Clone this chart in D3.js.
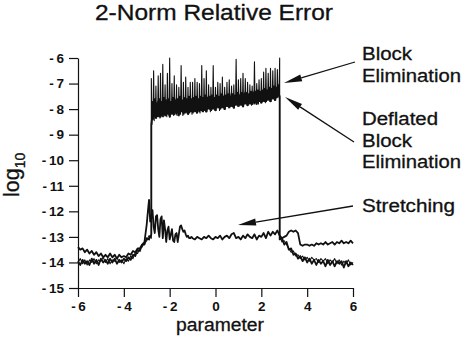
<!DOCTYPE html>
<html>
<head>
<meta charset="utf-8">
<script src="https://cdn.jsdelivr.net/npm/d3@7"></script>
<style>
body { margin: 0; background: #fff; }
svg { display: block; }
.axis text { font-family: "Liberation Sans", Arial, sans-serif; font-weight: bold; font-size: 13.5px; fill: #111; }
.axis path, .axis line { stroke: #111; stroke-width: 1.2; }
.label { font-family: "Liberation Sans", Arial, sans-serif; fill: #111; }
.series { fill: none; stroke: #111; stroke-linejoin: round; }
</style>
</head>
<body>
<div id="chart"></div>
<script>
var WIDTH = 463,
    HEIGHT = 342;

/* Data: log10 of the relative error.
   Each run is sampled on its own parameter grid (start, step). */
var xTicks = [-6, -4, -2, 0, 2, 4, 6];
var yTicks = [-15, -14, -13, -12, -11, -10, -9, -8, -7, -6];

// Block Elimination
var blockLeft = [ // -6 .. -2.8, step 0.1
    -14.0, -13.85, -14.05, -13.9, -14.1, -13.9, -14.0, -13.85, -14.05, -13.9,
    -13.95, -13.8, -14.0, -13.85, -14.05, -13.9, -13.95, -13.8, -14.0, -13.9,
    -14.05, -13.85, -13.95, -13.75, -13.85, -13.6, -13.65, -13.45, -13.4, -13.2,
    -13.15, -12.95, -13.05
];
var blockMid = [ // -2.8 .. 2.8, step 0.025
    -6.8, -8.6, -7.7, -8.4,     -6.5, -8.45, -7.6, -8.3,    -7.1, -8.35, -7.75, -8.3,   -6.7, -8.3, -7.6, -8.35,
    -6.6, -8.25, -7.7, -8.3,    -6.25, -8.3, -7.55, -8.2,   -7.05, -8.25, -7.65, -8.3,  -6.6, -8.2, -7.6, -8.25,
    -6.0, -8.3, -7.7, -8.2,     -7.0, -8.2, -7.55, -8.25,   -6.7, -8.15, -7.65, -8.2,   -7.05, -8.25, -7.6, -8.15,
    -7.15, -8.2, -7.5, -8.2,    -6.3, -8.1, -7.65, -8.25,   -6.95, -8.2, -7.55, -8.15,  -6.75, -8.15, -7.6, -8.1,
    -7.15, -8.2, -7.5, -8.15,   -6.95, -8.1, -7.6, -8.2,    -6.95, -8.15, -7.55, -8.1,  -6.8, -8.1, -7.5, -8.15,
    -6.95, -8.05, -7.6, -8.1,   -7.0, -8.15, -7.5, -8.05,   -6.3, -8.1, -7.55, -8.1,    -6.8, -8.05, -7.45, -8.1,
    -6.5, -8.1, -7.55, -8.0,    -7.05, -8.0, -7.5, -8.1,    -7.15, -8.05, -7.45, -8.0,  -6.3, -8.0, -7.55, -8.05,
    -7.15, -8.05, -7.45, -7.95, -6.95, -7.95, -7.5, -8.05,  -7.0, -8.0, -7.4, -7.95,    -6.75, -7.95, -7.5, -8.0,
    -7.15, -8.0, -7.45, -7.9,   -6.95, -7.9, -7.4, -7.95,   -6.85, -7.95, -7.5, -7.9,   -7.1, -7.9, -7.4, -7.95,
    -7.05, -7.95, -7.45, -7.85, -6.05, -7.85, -7.35, -7.9,  -6.85, -7.9, -7.45, -7.85,  -6.8, -7.85, -7.35, -7.9,
    -6.6, -7.9, -7.4, -7.8,     -6.8, -7.8, -7.35, -7.85,   -6.95, -7.85, -7.4, -7.8,   -7.05, -7.8, -7.3, -7.85,
    -7.1, -7.75, -7.35, -7.8,   -6.15, -7.8, -7.3, -7.75,   -7.0, -7.75, -7.25, -7.8,   -6.85, -7.7, -7.3, -7.75,
    -6.8, -7.75, -7.25, -7.7,   -6.55, -7.7, -7.2, -7.75,   -6.4, -7.7, -7.25, -7.65,   -6.6, -7.65, -7.15, -7.7,
    -6.4, -7.7, -7.2, -7.6,     -6.5, -7.6, -7.1, -7.65,    -6.4, -7.65, -7.15, -7.55,  -6.45, -7.55, -7.05, -7.5,
    -6.0
];
var blockRight = [ // 2.8 .. 6, step 0.1
    -12.95, -13.2,
    -13.15, -13.3, -13.45, -13.6, -13.55, -13.75, -13.7, -13.85, -13.75, -13.9,
    -13.8, -13.95, -13.8, -13.9, -13.85, -14.0, -13.85, -13.95, -13.85, -14.05,
    -13.9, -14.0, -13.85, -14.05, -13.9, -14.1, -13.95, -14.05, -13.9, -14.1,
    -14.0
];

// Deflated Block Elimination
var deflatedLeft = [ // -6 .. -2.8, step 0.1
    -13.95, -14.1, -13.9, -14.05, -13.95, -14.1, -13.85, -14.05, -13.9, -14.1,
    -13.85, -14.0, -13.9, -14.05, -13.85, -14.0, -13.85, -14.05, -13.9, -14.0,
    -13.85, -13.95, -13.8, -13.9, -13.7, -13.75, -13.5, -13.55, -13.3, -13.3,
    -13.05, -13.1, -12.9
];
var deflatedMid = [ // -2.8 .. 2.8, step 0.1
    -8.6, -7.8, -8.35, -7.7, -8.3, -7.8, -8.25, -7.65, -8.3, -7.75,
    -8.2, -7.6, -8.25, -7.7, -8.15, -7.6, -8.2, -7.65, -8.1, -7.55,
    -8.15, -7.6, -8.05, -7.55, -8.1, -7.5, -8.0, -7.6, -8.05, -7.5,
    -7.95, -7.45, -8.0, -7.5, -7.9, -7.4, -7.95, -7.45, -7.85, -7.4,
    -7.9, -7.35, -7.85, -7.4, -7.8, -7.3, -7.8, -7.35, -7.75, -7.3,
    -7.7, -7.25, -7.7, -7.2, -7.65, -7.25, -7.5
];
var deflatedRight = [ // 2.8 .. 6, step 0.1
    -13.1, -13.05,
    -13.3, -13.2, -13.5, -13.45, -13.7, -13.65, -13.85, -13.75, -13.95, -13.8,
    -14.0, -13.85, -14.05, -13.9, -14.1, -13.9, -14.05, -13.95, -14.15, -13.9,
    -14.1, -13.95, -14.15, -13.95, -14.05, -13.95, -14.2, -13.95, -14.15, -14.0,
    -14.1
];

// Stretching
var stretchLeft = [ // -6 .. -3.1, step 0.1
    -13.4, -13.5, -13.45, -13.6, -13.5, -13.65, -13.55, -13.7, -13.6, -13.75,
    -13.65, -13.8, -13.7, -13.8, -13.65, -13.8, -13.7, -13.85, -13.7, -13.8,
    -13.75, -13.8, -13.65, -13.7, -13.55, -13.6, -13.45, -13.45, -13.3, -13.2
];
var stretchPeak = [ // -3.0 .. -1.05, step 0.05
    -12.5, -12.0, -11.55, -12.4, -12.25, -11.95, -12.6, -12.85, -12.2, -12.15,
    -12.7, -13.0, -12.3, -12.2, -13.05, -12.35, -12.7, -13.2, -12.75, -12.6,
    -13.1, -12.9, -12.7, -13.15, -13.2, -12.9, -12.85, -13.2, -12.9, -12.6,
    -12.55, -12.7, -12.8, -12.75, -12.9, -13.0, -12.95, -13.05, -13.05, -13.0
];
var stretchRest = [ // -1.0 .. 6, step 0.1
    -13.05, -13.1, -13.0, -13.05, -13.1, -13.0, -13.05, -12.95, -13.05, -13.1,
    -13.0, -13.05, -12.95, -13.1, -13.0, -12.95, -13.05, -12.9, -12.85, -13.05,
    -13.0, -13.1, -12.95, -13.05, -12.9, -13.0, -13.05, -12.9, -13.1, -12.95,
    -13.0, -12.85, -13.05, -12.8, -12.95, -12.8, -12.9, -12.75, -12.95, -13.05,
    -13.0, -12.95, -12.8, -12.75, -12.8, -12.75, -12.85, -13.3, -13.35, -13.3,
    -13.3, -13.35, -13.3, -13.35, -13.25, -13.3, -13.25, -13.3, -13.2, -13.3,
    -13.25, -13.2, -13.3, -13.2, -13.25, -13.15, -13.25, -13.2, -13.25, -13.15,
    -13.25
];

/**
 * Turns a run of values on a regular parameter grid into points
 */
function segment(from, step, values){
    return values.map(function(v, i){
        return {x: +(from + i * step).toFixed(3), y: v};
    });
}

var series = [
    {width: 1.8, points: segment(-6, 0.1, stretchLeft).concat(segment(-3.0, 0.05, stretchPeak), segment(-1.0, 0.1, stretchRest))},
    {width: 1.8, points: segment(-6, 0.1, deflatedLeft).concat(segment(-2.8, 0.1, deflatedMid), segment(2.8, 0.1, deflatedRight))},
    {width: 1.1, points: segment(-6, 0.1, blockLeft).concat(segment(-2.8, 0.025, blockMid), segment(2.8, 0.1, blockRight))}
];

var margins = {top: 58, right: 110, bottom: 54, left: 78};

/* SVG */
var svg = d3.select("#chart")
    .append("svg")
        .attr("width", WIDTH)
        .attr("height", HEIGHT);

/* Scales */
var x = d3.scaleLinear()
    .domain([-6, 6])
    .range([margins.left, WIDTH - margins.right]);
var y = d3.scaleLinear()
    .domain([-15, -6])
    .range([HEIGHT - margins.bottom, margins.top]);

function minusFormat(d){
    return d < 0 ? "-\u2009" + (-d) : "" + d;
}

/* Axes */
svg.append("g")
    .attr("class", "axis")
    .attr("transform", "translate(" + margins.left + ",0)")
    .call(d3.axisLeft(y).tickValues(yTicks).tickFormat(minusFormat).tickSize(9).tickSizeOuter(0).tickPadding(5));

var xAxis = svg.append("g")
    .attr("class", "axis")
    .attr("transform", "translate(0," + y(-15) + ")")
    .call(d3.axisBottom(x).tickValues(xTicks).tickFormat(minusFormat).tickSize(9).tickSizeOuter(0).tickPadding(4));
xAxis.select(".domain").attr("stroke", "#8a6a4a");

/* Lines */
var line = d3.line()
    .x(function(d) { return x(d.x); })
    .y(function(d) { return y(d.y); });

svg.selectAll(".series")
    .data(series)
    .enter()
    .append("path")
        .attr("class", "series")
        .attr("stroke-width", function(d) { return d.width; })
        .attr("d", function(d) { return line(d.points); });

/* Title and axis labels */
svg.append("text")
    .attr("class", "label")
    .attr("x", 95).attr("y", 20)
    .attr("font-size", 21.5)
    .attr("stroke", "#111").attr("stroke-width", 0.3)
    .attr("textLength", 238).attr("lengthAdjust", "spacingAndGlyphs")
    .text("2-Norm Relative Error");

svg.append("text")
    .attr("class", "label")
    .attr("x", 176).attr("y", 331)
    .attr("font-size", 18)
    .attr("stroke", "#111").attr("stroke-width", 0.3)
    .attr("textLength", 88).attr("lengthAdjust", "spacingAndGlyphs")
    .text("parameter");

var yLabel = svg.append("text")
    .attr("class", "label")
    .attr("transform", "translate(19,197) rotate(-90)")
    .attr("font-size", 21.5)
    .attr("stroke", "#111").attr("stroke-width", 0.3);
yLabel.append("tspan").text("log");
yLabel.append("tspan").attr("font-size", 14).attr("dy", 6).text("10");

/* Annotations */
var notes = [
    {text: "Block", y: 60, w: 50},
    {text: "Elimination", y: 82, w: 99},
    {text: "Deflated", y: 125, w: 76},
    {text: "Block", y: 147, w: 50},
    {text: "Elimination", y: 168, w: 99},
    {text: "Stretching", y: 212, w: 93}
];
svg.selectAll(".note")
    .data(notes)
    .enter()
    .append("text")
        .attr("class", "label note")
        .attr("x", 362)
        .attr("y", function(d) { return d.y; })
        .attr("font-size", 18)
        .attr("stroke", "#111").attr("stroke-width", 0.3)
        .attr("textLength", function(d) { return d.w; })
        .attr("lengthAdjust", "spacingAndGlyphs")
        .text(function(d) { return d.text; });

// arrows: from label side to the tip on the curve
var arrows = [
    {x1: 355, y1: 62, x2: 284, y2: 83},
    {x1: 354, y1: 142, x2: 285, y2: 97},
    {x1: 353, y1: 206, x2: 238, y2: 225}
];
arrows.forEach(function(a){
    var dx = a.x2 - a.x1, dy = a.y2 - a.y1,
        len = Math.sqrt(dx * dx + dy * dy),
        ux = dx / len, uy = dy / len,
        headLen = 18, headW = 3.5,
        bx = a.x2 - ux * headLen, by = a.y2 - uy * headLen;
    svg.append("line")
        .attr("x1", a.x1).attr("y1", a.y1)
        .attr("x2", bx).attr("y2", by)
        .attr("stroke", "#111").attr("stroke-width", 1.3);
    svg.append("polygon")
        .attr("points", [
            [a.x2, a.y2],
            [bx - uy * headW, by + ux * headW],
            [bx + uy * headW, by - ux * headW]
        ].map(function(p) { return p.join(","); }).join(" "))
        .attr("fill", "#111");
});
</script>
</body>
</html>
